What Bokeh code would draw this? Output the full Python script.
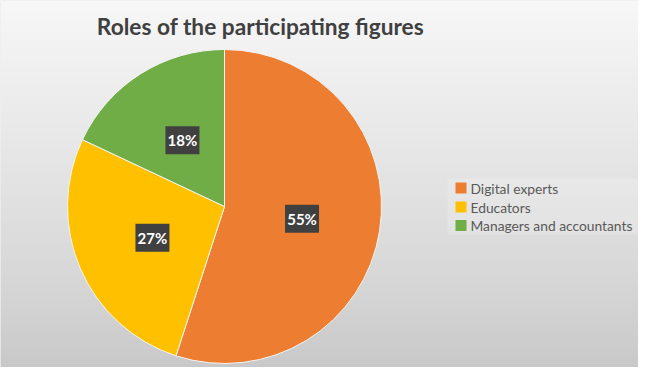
import numpy as np
from bokeh.plotting import figure
from bokeh.models import Range1d, ColumnDataSource
from bokeh.core.properties import value
from bokeh.embed import file_html
from bokeh.resources import INLINE

# ---- data ----
title = "Roles of the participating figures"
categories = ["Digital experts", "Educators", "Managers and accountants"]
shares = [55, 27, 18]
colors = ["#ED7D31", "#FFC000", "#70AD47"]

W, H = 638, 367
p = figure(width=W, height=H, output_backend="svg", toolbar_location=None,
           x_range=Range1d(0, W), y_range=Range1d(0, H), min_border=0)
p.axis.visible = False
p.grid.visible = False
p.outline_line_color = None
p.background_fill_color = "#e0e0e0"
p.border_fill_color = "#ffffff"

# background gradient (style)
gh, gw = 120, 2
t = np.linspace(0, 1, gh)[:, None]  # 0 bottom -> 1 top
top = np.array([247, 247, 247]); bot = np.array([200, 200, 200])
cols = (bot + (top - bot) * t ** 0.8).astype(np.uint32)
img = np.zeros((gh, gw), dtype=np.uint32)
view = img.view(dtype=np.uint8).reshape((gh, gw, 4))
view[:, :, 0] = cols[:, 0:1]
view[:, :, 1] = cols[:, 1:2]
view[:, :, 2] = cols[:, 2:3]
view[:, :, 3] = 255
p.image_rgba(image=[img], x=0, y=0, dw=W, dh=H)

# ---- pie ----
cx, cy, r = 224, H - 206, 157
vals = np.array(shares, dtype=float)
frac = vals / vals.sum()
ends = np.pi / 2 - 2 * np.pi * np.concatenate([[0], np.cumsum(frac)[:-1]])
starts = ends - 2 * np.pi * frac
src = ColumnDataSource(dict(start=starts, end=ends, color=colors, cat=categories))
p.wedge(x=cx, y=cy, radius=r, start_angle="start", end_angle="end",
        fill_color="color", line_color="#f5f5f5", line_width=1, source=src)

mid = (starts + ends) / 2
lx = cx + 0.5 * r * np.cos(mid)
ly = cy + 0.5 * r * np.sin(mid)
labels = [f"{v}%" for v in shares]
p.rect(x=lx, y=ly, width=34, height=28, fill_color="#404040", line_color=None)
p.text(x=lx, y=ly, text=labels, text_color="white", text_font=value("Lato"),
       text_font_style="bold", text_font_size="15px", text_align="center",
       text_baseline="middle")

# ---- title ----
p.text(x=[260], y=[H - 26], text=[title], text_color="#404040",
       text_font=value("Lato"), text_font_style="bold", text_font_size="22.7px",
       text_align="center", text_baseline="alphabetic")

# ---- legend ----
p.rect(x=[543.5], y=[H - 206], width=193, height=56, fill_color="white",
       fill_alpha=0.18, line_color=None)
ry = H - np.array([187.5, 206.5, 225.0])
p.rect(x=[460.5] * 3, y=ry, width=11, height=11, fill_color=colors, line_color=None)
p.text(x=[470] * 3, y=ry, text=categories, text_color="#595959",
       text_font=value("Lato"), text_font_size="13.8px", text_align="left",
       text_baseline="middle")

open("out.html", "w").write(file_html(p, INLINE))
